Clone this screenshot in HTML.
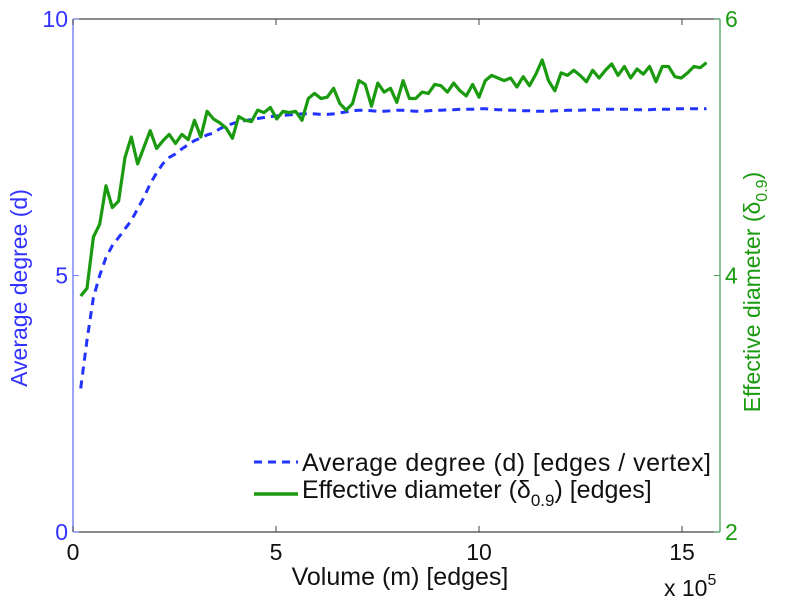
<!DOCTYPE html>
<html><head><meta charset="utf-8">
<style>
html,body{margin:0;padding:0;background:#fff;}
svg{display:block;font-family:"Liberation Sans",Helvetica,Arial,sans-serif;}
</style></head>
<body>
<svg id="chart" width="785" height="600" viewBox="0 0 785 600" xmlns="http://www.w3.org/2000/svg">
  <g id="axes"></g>
  <g id="series"></g>
  <g id="legend">
    <line x1="254" y1="462" x2="298" y2="462" stroke="#2233ff" stroke-width="3" stroke-dasharray="8,6"/>
    <text x="302" y="471" font-size="25" textLength="409" fill="#111">Average degree (d) [edges / vertex]</text>
    <line x1="254" y1="494" x2="298" y2="494" stroke="#1a9a0f" stroke-width="3.5"/>
    <text x="302" y="498" font-size="25" fill="#111">Effective diameter (δ<tspan font-size="17" dy="8">0.9</tspan><tspan dy="-8">) [edges]</tspan></text>
  </g>
  <text x="400" y="585" font-size="25" fill="#111" text-anchor="middle">Volume (m) [edges]</text>
  <text x="664" y="596" font-size="23" fill="#111">x 10<tspan font-size="16" dy="-11">5</tspan></text>
  <text transform="translate(27,288) rotate(-90)" font-size="23" fill="#3333ff" text-anchor="middle">Average degree (d)</text>
  <text transform="translate(760,292) rotate(-90)" font-size="23" fill="#1a9a0f" text-anchor="middle">Effective diameter (δ<tspan font-size="16" dy="7">0.9</tspan><tspan dy="-7">)</tspan></text>
</svg>
<script>
const xTicks = [0, 5, 10, 15];
const yLeftTicks = [0, 5, 10];
const yRightTicks = [2, 4, 6];
const xStart = 0.19;
const xStep = 0.1557;
const degreeValues = [2.80,3.74,4.57,5.00,5.35,5.58,5.74,5.91,6.07,6.30,6.52,6.79,7.00,7.18,7.30,7.37,7.47,7.55,7.63,7.68,7.74,7.78,7.86,7.92,7.96,8.00,8.02,8.04,8.06,8.08,8.10,8.11,8.12,8.13,8.14,8.15,8.15,8.15,8.14,8.14,8.15,8.17,8.19,8.21,8.22,8.22,8.21,8.20,8.20,8.21,8.22,8.22,8.21,8.20,8.20,8.21,8.22,8.22,8.23,8.23,8.24,8.24,8.24,8.25,8.25,8.24,8.23,8.23,8.22,8.22,8.21,8.21,8.20,8.20,8.20,8.21,8.21,8.22,8.22,8.22,8.23,8.23,8.23,8.24,8.24,8.24,8.24,8.24,8.23,8.23,8.23,8.24,8.24,8.24,8.25,8.25,8.25,8.25,8.25,8.25];
const diameterValues = [3.84,3.90,4.30,4.40,4.70,4.53,4.58,4.92,5.08,4.87,5.00,5.13,4.99,5.05,5.10,5.03,5.10,5.06,5.21,5.08,5.28,5.22,5.19,5.15,5.07,5.24,5.21,5.20,5.29,5.27,5.31,5.22,5.28,5.27,5.28,5.21,5.38,5.42,5.38,5.39,5.46,5.34,5.29,5.34,5.52,5.49,5.32,5.50,5.43,5.46,5.35,
5.52,5.38,5.38,5.43,5.42,5.49,5.48,5.43,5.50,5.44,5.40,5.49,5.39,5.52,5.56,5.54,5.52,5.54,5.47,5.55,5.48,5.57,5.68,5.52,5.44,5.58,5.56,5.60,5.56,5.51,5.60,5.54,5.60,5.65,5.56,5.63,5.54,5.61,5.57,5.63,5.51,5.63,5.63,5.55,5.54,5.58,5.63,5.62,5.66];

const NS = "http://www.w3.org/2000/svg";
const PL = 73, PR = 720, PT = 19, PB = 532;
const xs = v => PL + v * (682 - PL) / 15;
const yl = v => PB - v * (PB - PT) / 10;
const yr = v => PB - (v - 2) * (PB - PT) / 4;
function mk(tag, attrs, parent) {
  const e = document.createElementNS(NS, tag);
  for (const k in attrs) e.setAttribute(k, attrs[k]);
  parent.appendChild(e);
  return e;
}
const axesG = document.getElementById('axes');
const seriesG = document.getElementById('series');

const topLine = mk('line', {x1: PL, y1: PT, x2: PR, y2: PT, stroke: '#444', 'stroke-width': 1.3}, axesG);


const botLine = mk('line', {x1: PL, y1: PB, x2: PR, y2: PB, stroke: '#444', 'stroke-width': 1.3}, axesG);


const leftLine = mk('line', {x1: PL, y1: PT, x2: PL, y2: PB, stroke: '#7d86ff', 'stroke-width': 1.5}, axesG);


const rightLine = mk('line', {x1: PR, y1: PT, x2: PR, y2: PB, stroke: '#4aa05a', 'stroke-width': 1.3}, axesG);



xTicks.forEach(t => {
  const x = xs(t);
  const a = mk('line', {x1: x, y1: PB, x2: x, y2: PB - 6, stroke: '#444'}, axesG);
  
  
  const b = mk('line', {x1: x, y1: PT, x2: x, y2: PT + 6, stroke: '#444'}, axesG);
  
  
  const tx = mk('text', {x: x, y: PB + 28, 'font-size': 23, fill: '#111', 'text-anchor': 'middle'}, axesG);
  tx.textContent = t;
  
  
});
yLeftTicks.forEach(t => {
  const y = yl(t);
  const a = mk('line', {x1: PL, y1: y, x2: PL + 6, y2: y, stroke: '#7d86ff'}, axesG);
  
  
  const tx = mk('text', {x: PL - 5, y: y + 8, 'font-size': 23, fill: '#3333ff', 'text-anchor': 'end'}, axesG);
  tx.textContent = t;
  
  
});
yRightTicks.forEach(t => {
  const y = yr(t);
  const a = mk('line', {x1: PR, y1: y, x2: PR - 6, y2: y, stroke: '#4aa05a'}, axesG);
  
  
  const tx = mk('text', {x: PR + 5, y: y + 8, 'font-size': 23, fill: '#1a9a0f'}, axesG);
  tx.textContent = t;
  
  
});

const dPts = degreeValues.map((v, i) => xs(xStart + i * xStep).toFixed(1) + ',' + yl(v).toFixed(1)).join(' ');
const dl = mk('polyline', {points: dPts, fill: 'none', stroke: '#2233ff', 'stroke-width': 3, 'stroke-dasharray': '8,6'}, seriesG);



const gPts = diameterValues.map((v, i) => xs(xStart + i * xStep).toFixed(1) + ',' + yr(v).toFixed(1)).join(' ');
const gl = mk('polyline', {points: gPts, fill: 'none', stroke: '#1a9a0f', 'stroke-width': 3.2, 'stroke-linejoin': 'round'}, seriesG);


</script>
</body></html>
